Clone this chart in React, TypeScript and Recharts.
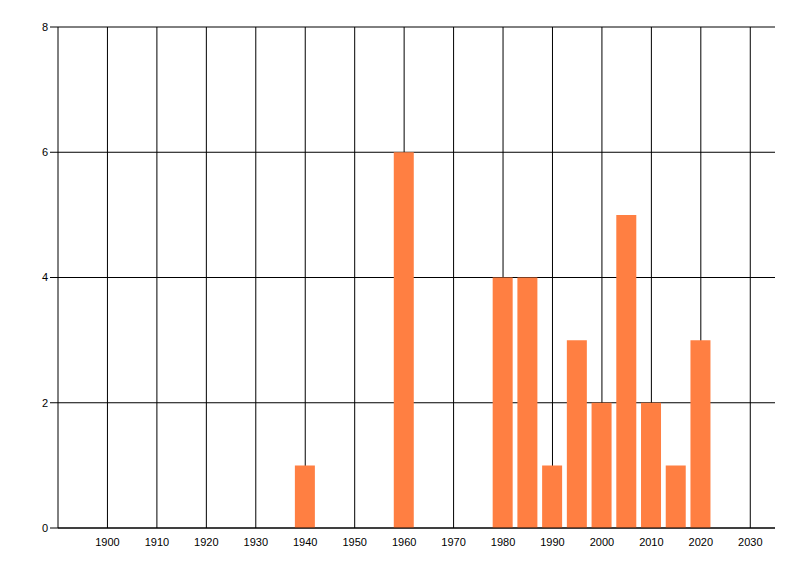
import React from "react";
import { BarChart, Bar, XAxis, YAxis, CartesianGrid } from "recharts";

const years = [1940, 1960, 1980, 1985, 1990, 1995, 2000, 2005, 2010, 2015, 2020];
const counts = [1, 6, 4, 4, 1, 3, 2, 5, 2, 1, 3];
const xTicks = [1900, 1910, 1920, 1930, 1940, 1950, 1960, 1970, 1980, 1990, 2000, 2010, 2020, 2030];
const yTicks = [0, 2, 4, 6, 8];

const data = years.map((y, i) => ({ year: y, count: counts[i] }));

export default function App() {
  const tickStyle = { fill: "#000", fontSize: 11, fontFamily: "Liberation Sans, Arial, sans-serif" };
  const vGen = (props: any) => {
    const axis = props && props.xAxis;
    const scale = axis && axis.scale;
    if (scale && typeof scale === "function") {
      return xTicks.map((t) => scale(t));
    }
    if (scale && typeof scale.map === "function") {
      return xTicks.map((t) => scale.map(t));
    }
    return [];
  };
  return (
    <BarChart
      width={784}
      height={560}
      data={data}
      margin={{ top: 19, right: 17, bottom: 10, left: 0 }}
    >
      <CartesianGrid stroke="#000" strokeWidth={1} verticalCoordinatesGenerator={vGen} />
      <XAxis
        dataKey="year"
        type="number"
        domain={[1890, 2035]}
        ticks={xTicks}
        allowDataOverflow
        tickLine={false}
        tickSize={8}
        tickMargin={2}
        height={30}
        axisLine={{ stroke: "#000" }}
        tick={tickStyle}
      />
      <YAxis
        type="number"
        domain={[0, 8]}
        ticks={yTicks}
        width={50}
        tickSize={8}
        tickMargin={2}
        axisLine={{ stroke: "#000" }}
        tickLine={{ stroke: "#000" }}
        tick={tickStyle}
      />
      <Bar dataKey="count" fill="#FF7F42" barSize={20} isAnimationActive={false} />
    </BarChart>
  );
}
